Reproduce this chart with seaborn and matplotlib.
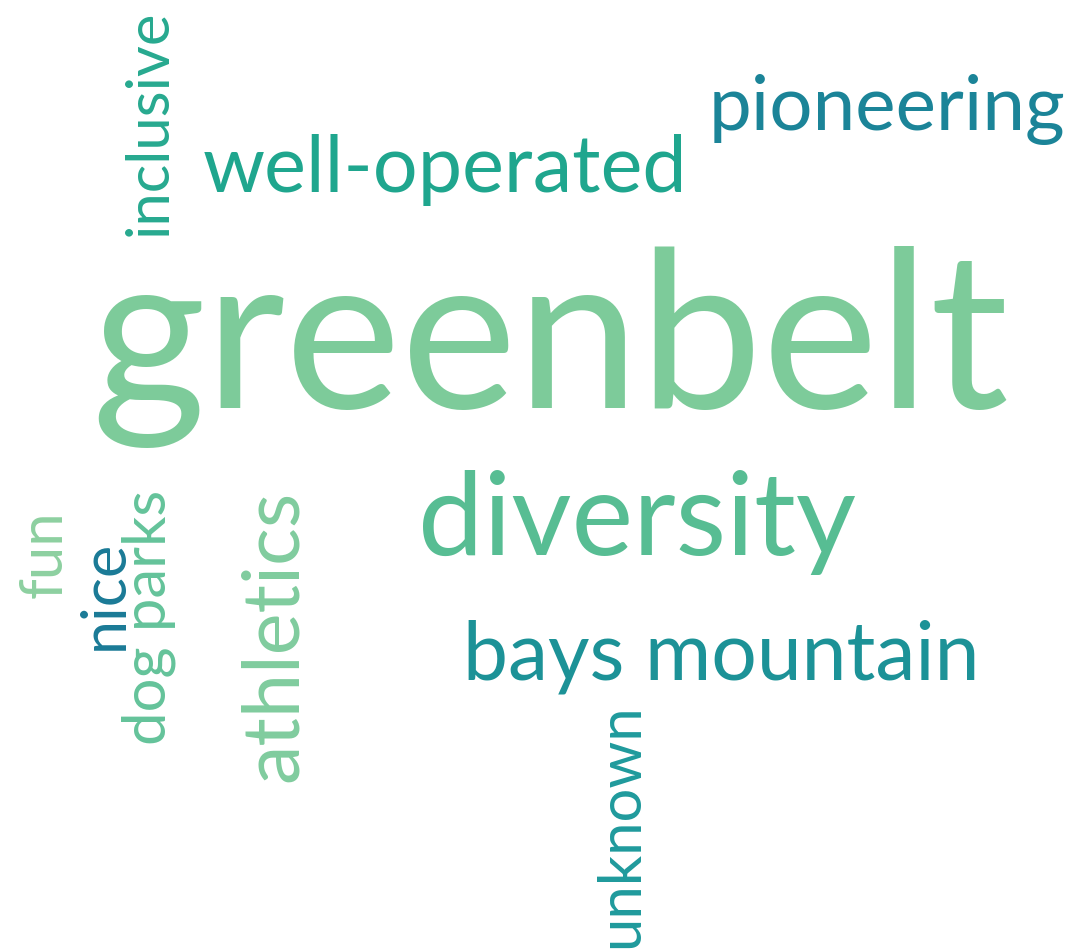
import matplotlib
matplotlib.use("Agg")
import matplotlib.pyplot as plt
import seaborn as sns

# word cloud terms and their weights (relative frequency)
words = ["greenbelt", "diversity", "well-operated", "bays mountain", "athletics",
         "pioneering", "inclusive", "unknown", "fun", "nice", "dog parks"]
weights = [158, 84, 57, 58, 57, 55, 43, 43, 43, 44, 43]
colors = ["#7dcb9a", "#57bd93", "#1fa68e", "#1c9297", "#80cc9e",
          "#1b8498", "#27a98f", "#1f9a9c", "#8dd0a0", "#1a7a96", "#64c39a"]

# layout: baseline start (px) and rotation of each word
layout_x = [91, 418, 203, 463, 297, 709, 167, 638, 62, 123, 165]
layout_y = [408, 555, 192, 680, 782, 130, 236, 948, 598, 650, 745]
layout_rot = [0, 0, 0, 0, 90, 0, 90, 90, 90, 90, 90]

sns.set_style("white")
plt.rcParams["font.family"] = ["Lato", "DejaVu Sans"]

fig = plt.figure(figsize=(10.85, 9.51), dpi=100)
ax = fig.add_axes([0, 0, 1, 1])
ax.set_xlim(0, 1085)
ax.set_ylim(951, 0)
ax.axis("off")

for w, s, c, x, y, r in zip(words, weights, colors, layout_x, layout_y, layout_rot):
    ax.text(x, y, w, fontsize=s, color=c, rotation=r, rotation_mode="anchor",
            ha="left", va="baseline")

fig.savefig("out.png", dpi=100, facecolor="white")
